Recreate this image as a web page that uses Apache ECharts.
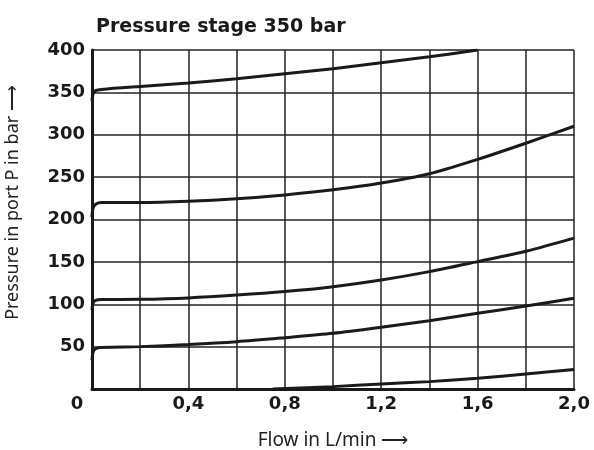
<!DOCTYPE html>
<html>
<head>
<meta charset="utf-8">
<script src="https://cdn.jsdelivr.net/npm/echarts@6/dist/echarts.min.js"></script>
<style>
  html, body { margin: 0; padding: 0; background: #fff; }
  #chart { width: 594px; height: 450px; }
</style>
</head>
<body>
<div id="chart"></div>
<script>
// flow in L/min (x), shared by the four upper curves
var flow = [0, 0.004, 0.015, 0.04, 0.2, 0.4, 0.6, 0.8, 1.0, 1.2, 1.4, 1.6, 1.8, 2.0];
// pressure in bar for each set curve
var p350 = [340, 348, 352, 353.5, 357, 361, 366, 372, 378, 385, 392, 400, null, null];
var p220 = [203, 213, 218, 220, 220, 221.5, 224.5, 229, 235, 243, 254, 271, 290, 310];
var p105 = [93, 101, 104.5, 105.5, 105.8, 107.5, 110.8, 115, 120.7, 128.6, 138.5, 150.3, 162.5, 178];
var p50 = [34, 43, 47.5, 49, 50, 52.5, 55.8, 60.5, 65.7, 72.8, 80.6, 89.3, 98, 107];
// lowest curve starts later
var flowLow = [0.75, 1.0, 1.2, 1.4, 1.6, 1.8, 2.0];
var pLow = [0, 2.8, 5.9, 8.7, 12.6, 17.7, 23];

var bold = "'DejaVu Sans', sans-serif";
var thin = "'Noto Sans', sans-serif";
var ink = "#1a1a1a";

function pairs(xs, ys) {
  var out = [];
  for (var i = 0; i < xs.length; i++) {
    if (ys[i] != null) out.push([xs[i], ys[i]]);
  }
  return out;
}

function curve(data) {
  return {
    type: "line",
    data: data,
    smooth: 0.3,
    symbol: "none",
    lineStyle: { color: ink, width: 3 },
    silent: true
  };
}

var myChart = echarts.init(document.getElementById("chart"));
var option = {
  animation: false,
  title: {
    text: "Pressure stage 350 bar",
    left: 91,
    top: 13,
    textStyle: { fontFamily: bold, fontWeight: "bold", fontSize: 19, color: ink }
  },
  grid: { left: 92, right: 20, top: 50, bottom: 61, outerBoundsMode: "none", containLabel: false },
  xAxis: {
    type: "value",
    min: 0,
    max: 2,
    interval: 0.4,
    name: "Flow in L/min \u27F6",
    nameLocation: "middle",
    nameGap: 42,
    nameTextStyle: { fontFamily: thin, fontSize: 19, color: "#222" },
    axisLine: { show: true, lineStyle: { color: ink, width: 3 } },
    axisTick: { show: false },
    axisLabel: {
      margin: 6,
      fontFamily: bold,
      fontWeight: "bold",
      fontSize: 18,
      color: ink,
      formatter: function (v) {
        if (v === 0) return "{z|0}";
        return v.toFixed(1).replace(".", ",");
      },
      rich: { z: { fontFamily: bold, fontWeight: "bold", fontSize: 18, color: ink, padding: [0, 30, 0, 0] } }
    },
    splitLine: { show: true, lineStyle: { color: "#222", width: 1.5 } },
    minorTick: { show: false, splitNumber: 2 },
    minorSplitLine: { show: true, lineStyle: { color: "#222", width: 1.5 } }
  },
  yAxis: {
    type: "value",
    min: 0,
    max: 400,
    interval: 50,
    name: "Pressure in port P in bar \u27F6",
    nameLocation: "middle",
    nameGap: 70,
    nameTextStyle: { fontFamily: thin, fontSize: 18, color: "#222", padding: [0, 0, 0, 34] },
    axisLine: { show: true, lineStyle: { color: ink, width: 3 } },
    axisTick: { show: false },
    axisLabel: {
      margin: 7,
      fontFamily: bold,
      fontWeight: "bold",
      fontSize: 18,
      color: ink,
      formatter: function (v) { return v === 0 ? "" : String(v); }
    },
    splitLine: { show: true, lineStyle: { color: "#222", width: 1.5 } }
  },
  series: [
    curve(pairs(flow, p350)),
    curve(pairs(flow, p220)),
    curve(pairs(flow, p105)),
    curve(pairs(flow, p50)),
    curve(pairs(flowLow, pLow))
  ]
};
myChart.setOption(option);
</script>
</body>
</html>
